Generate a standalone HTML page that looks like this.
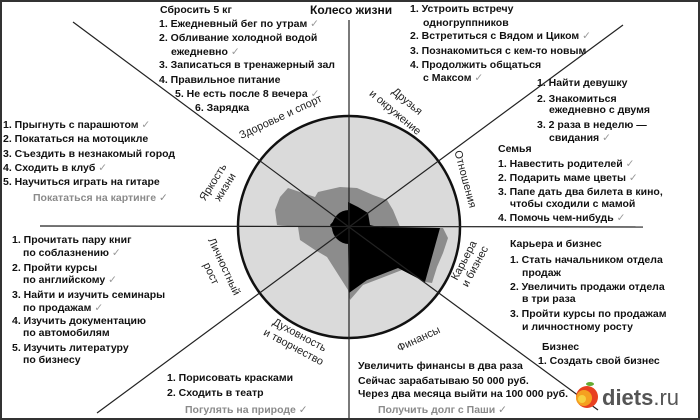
<!DOCTYPE html>
<html><head><meta charset="utf-8"><style>
html,body{margin:0;padding:0;background:#fff}
svg{display:block}
text{font-family:"Liberation Sans","DejaVu Sans",sans-serif;font-size:10.5px;font-weight:bold;fill:#111}
.g{fill:#8a8a8a}
.l{font-weight:normal;font-size:11px;fill:#222}
.c{fill:#999;font-weight:normal}
</style></head><body>
<svg width="700" height="420" viewBox="0 0 700 420">
<rect x="1" y="1" width="698" height="418" fill="#fff" stroke="#333" stroke-width="2"/>
<circle cx="349" cy="227" r="111" fill="#dadada" stroke="#111" stroke-width="2.5"/>
<polygon fill="#8c8c8c" points="288,188 315,197 318,192 340,187 357,188 373,195 387,200 393,210 400,227 443,228 448,238 443,253 437,267 432,283 425,282 402,270 363,285 350,300 348,290 327,257 315,250 300,240 298,227 277,225 275,210 280,197"/>
<polygon fill="#000" points="348,202 358,207 368,213 370,225 378,227 440,228 425,282 398,268 367,280 349,293 348,243 337,238 333,230 330,225 337,217 348,212"/>
<circle cx="349" cy="227" r="17" fill="#000"/>
<g stroke="#222" stroke-width="1.2">
<line x1="40" y1="226" x2="643" y2="227"/>
<line x1="349" y1="20" x2="349" y2="418"/>
<line x1="73" y1="22" x2="349" y2="227"/>
<line x1="623" y1="25" x2="349" y2="227"/>
<line x1="97" y1="413" x2="349" y2="227"/>
<line x1="598" y1="410" x2="349" y2="227"/>
</g>
<text x="310" y="14" style="font-size:12px">Колесо жизни</text>
<g>
<text x="160" y="13">Сбросить 5 кг</text>
<text x="159" y="27">1. Ежедневный бег по утрам <tspan class="c">✓</tspan></text>
<text x="159" y="41">2. Обливание холодной водой</text>
<text x="171" y="55">ежедневно <tspan class="c">✓</tspan></text>
<text x="159" y="68">3. Записаться в тренажерный зал</text>
<text x="159" y="83">4. Правильное питание</text>
<text x="175" y="97">5. Не есть после 8 вечера <tspan class="c">✓</tspan></text>
<text x="195" y="111">6. Зарядка</text>

<text x="3" y="128">1. Прыгнуть с парашютом <tspan class="c">✓</tspan></text>
<text x="3" y="142">2. Покататься на мотоцикле</text>
<text x="3" y="157">3. Съездить в незнакомый город</text>
<text x="3" y="171">4. Сходить в клуб <tspan class="c">✓</tspan></text>
<text x="3" y="185">5. Научиться играть на гитаре</text>
<text x="33" y="201" class="g">Покататься на картинге ✓</text>

<text x="410" y="12">1. Устроить встречу</text>
<text x="423" y="26">одногруппников</text>
<text x="410" y="39">2. Встретиться с Вядом и Циком <tspan class="c">✓</tspan></text>
<text x="410" y="54">3. Познакомиться с кем-то новым</text>
<text x="410" y="68">4. Продолжить общаться</text>
<text x="423" y="81">с Максом <tspan class="c">✓</tspan></text>

<text x="537" y="86">1. Найти девушку</text>
<text x="537" y="102">2. Знакомиться</text>
<text x="549" y="113">ежедневно с двумя</text>
<text x="537" y="128">3. 2 раза в неделю —</text>
<text x="549" y="141">свидания <tspan class="c">✓</tspan></text>

<text x="498" y="152">Семья</text>
<text x="498" y="167">1. Навестить родителей <tspan class="c">✓</tspan></text>
<text x="498" y="181">2. Подарить маме цветы <tspan class="c">✓</tspan></text>
<text x="498" y="195">3. Папе дать два билета в кино,</text>
<text x="510" y="207">чтобы сходили с мамой</text>
<text x="498" y="221">4. Помочь чем-нибудь <tspan class="c">✓</tspan></text>

<text x="510" y="247">Карьера и бизнес</text>
<text x="510" y="263">1. Стать начальником отдела</text>
<text x="522" y="276">продаж</text>
<text x="510" y="290">2. Увеличить продажи отдела</text>
<text x="522" y="302">в три раза</text>
<text x="510" y="317">3. Пройти курсы по продажам</text>
<text x="522" y="330">и личностному росту</text>
<text x="542" y="350">Бизнес</text>
<text x="538" y="364">1. Создать свой бизнес</text>

<text x="358" y="369">Увеличить финансы в два раза</text>
<text x="358" y="384">Сейчас зарабатываю 50 000 руб.</text>
<text x="358" y="397">Через два месяца выйти на 100 000 руб.</text>
<text x="378" y="413" class="g">Получить долг с Паши ✓</text>

<text x="12" y="243">1. Прочитать пару книг</text>
<text x="23" y="256">по соблазнению <tspan class="c">✓</tspan></text>
<text x="12" y="271">2. Пройти курсы</text>
<text x="23" y="283">по английскому <tspan class="c">✓</tspan></text>
<text x="12" y="298">3. Найти и изучить семинары</text>
<text x="23" y="311">по продажам <tspan class="c">✓</tspan></text>
<text x="12" y="324">4. Изучить документацию</text>
<text x="23" y="336">по автомобилям</text>
<text x="12" y="351">5. Изучить литературу</text>
<text x="23" y="363">по бизнесу</text>

<text x="167" y="381">1. Порисовать красками</text>
<text x="167" y="396">2. Сходить в театр</text>
<text x="185" y="413" class="g">Погулять на природе ✓</text>
</g>
<g class="l">
<text class="l" transform="translate(282,120) rotate(-25)" text-anchor="middle">Здоровье и спорт</text>
<text class="l" transform="translate(216,184) rotate(-58)" text-anchor="middle">Яркость</text>
<text class="l" transform="translate(228,189) rotate(-58)" text-anchor="middle">жизни</text>
<text class="l" transform="translate(405,104) rotate(40)" text-anchor="middle">Друзья</text>
<text class="l" transform="translate(393,115) rotate(40)" text-anchor="middle">и окружение</text>
<text class="l" transform="translate(462,180) rotate(75)" text-anchor="middle">Отношения</text>
<text class="l" transform="translate(467,262) rotate(-62)" text-anchor="middle">Карьера</text>
<text class="l" transform="translate(478,268) rotate(-62)" text-anchor="middle">и бизнес</text>
<text class="l" transform="translate(420,342) rotate(-25)" text-anchor="middle">Финансы</text>
<text class="l" transform="translate(298,338) rotate(28)" text-anchor="middle">Духовность</text>
<text class="l" transform="translate(292,350) rotate(28)" text-anchor="middle">и творчество</text>
<text class="l" transform="translate(221,268) rotate(65)" text-anchor="middle">Личностный</text>
<text class="l" transform="translate(208,275) rotate(65)" text-anchor="middle">рост</text>
</g>
<circle cx="587" cy="397" r="11" fill="#e84020"/>
<circle cx="584" cy="398" r="8" fill="#f5a020"/>
<circle cx="582" cy="399" r="4" fill="#f6d040"/>
<ellipse cx="590" cy="384" rx="4" ry="2" fill="#6a3"/>
<text x="602" y="405" style="font-size:22px;fill:#555;font-weight:bold">diets<tspan style="font-weight:normal">.ru</tspan></text>
</svg>
</body></html>
